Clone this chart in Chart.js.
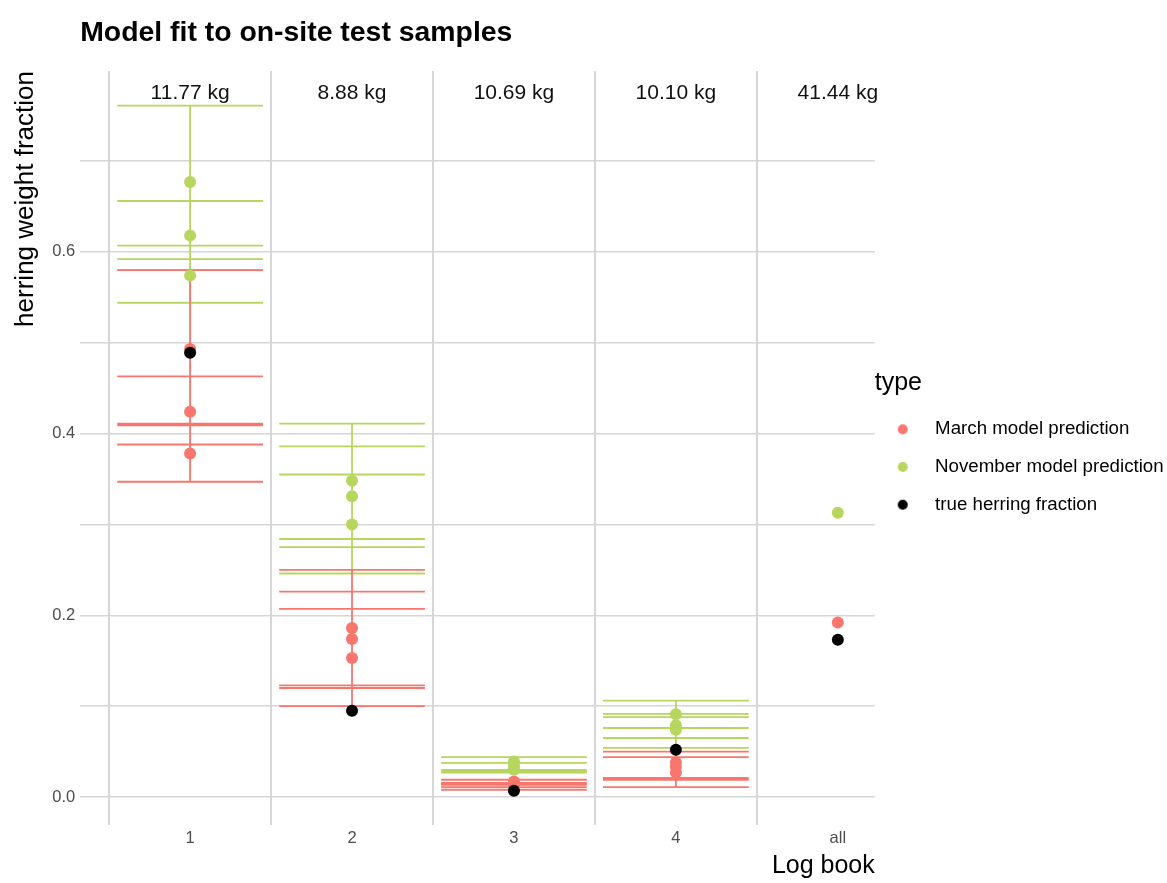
<!DOCTYPE html>
<html>
<head>
<meta charset="utf-8">
<script src="https://cdn.jsdelivr.net/npm/chart.js@4.4.1/dist/chart.umd.min.js"></script>
<style>
  html, body { margin:0; padding:0; background:#fff; }
  #wrap { width:1167px; height:883px; }
</style>
</head>
<body>
<div id="wrap"><canvas id="chart" width="1167" height="883"></canvas></div>
<script>
// log books on the x axis, and the catch weight printed above each one
const LOGBOOKS = ['1', '2', '3', '4', 'all'];
const WEIGHTS  = ['11.77 kg', '8.88 kg', '10.69 kg', '10.10 kg', '41.44 kg'];

// predicted herring fractions, one list per log book
const MARCH_PRED = [[0.493, 0.424, 0.378], [0.186, 0.174, 0.153], [0.017, 0.015, 0.014], [0.038, 0.033, 0.027], [0.192]];
const NOV_PRED   = [[0.677, 0.618, 0.574], [0.348, 0.331, 0.300], [0.039, 0.034, 0.030], [0.091, 0.079, 0.074], [0.313]];
const TRUE_FRAC  = [0.489, 0.095, 0.007, 0.052, 0.173];

// error intervals [low, high], one list per log book
const MARCH_CI = [
  [[0.347, 0.580], [0.388, 0.463], [0.409, 0.411]],
  [[0.100, 0.250], [0.120, 0.226], [0.123, 0.207]],
  [[0.008, 0.019], [0.011, 0.0155], [0.0135, 0.0145]],
  [[0.011, 0.050], [0.019, 0.044], [0.020, 0.021]],
  []
];
const NOV_CI = [
  [[0.544, 0.761], [0.592, 0.656], [0.580, 0.607]],
  [[0.246, 0.411], [0.275, 0.386], [0.284, 0.355]],
  [[0.027, 0.044], [0.029, 0.0375], [0.028, 0.030]],
  [[0.054, 0.106], [0.065, 0.0915], [0.076, 0.088]],
  []
];

const Y_TICKS = [0, 0.1, 0.2, 0.3, 0.4, 0.5, 0.6, 0.7];

const RED   = '#F8766D';
const GREEN = '#B7D65E';
const GRID  = '#d6d6d6';
const TICK  = '#4d4d4d';
const FONT  = "'Liberation Sans', Arial, sans-serif";
const CAP   = 0.45;      // half width of the interval caps, in log book units
const KG_Y  = 0.775;     // height of the weight labels

const pts = rows => rows.flatMap((vals, i) => [].concat(vals).map(v => ({ x: i + 1, y: v })));
const bars = rows => rows.flatMap((list, i) => list.flatMap(([lo, hi]) => {
  const x = i + 1;
  return [
    { x: x - CAP, y: lo }, { x: x + CAP, y: lo }, { x: x, y: null },
    { x: x - CAP, y: hi }, { x: x + CAP, y: hi }, { x: x, y: null },
    { x: x, y: lo }, { x: x, y: hi }, { x: x, y: null },
  ];
}));

// legend dot, drawn left of centre so the label text sits further right
function dot(color) {
  const c = document.createElement('canvas');
  c.width = 28; c.height = 12;
  const g = c.getContext('2d');
  g.fillStyle = color;
  g.beginPath(); g.arc(7, 6, 5, 0, Math.PI * 2); g.fill();
  return c;
}

const weightLabels = {
  id: 'weightLabels',
  afterDatasetsDraw(chart) {
    const { ctx, scales: { x, y } } = chart;
    ctx.save();
    ctx.font = `21px ${FONT}`;
    ctx.fillStyle = '#111';
    ctx.textAlign = 'center';
    ctx.textBaseline = 'middle';
    WEIGHTS.forEach((w, i) => ctx.fillText(w, x.getPixelForValue(i + 1), y.getPixelForValue(KG_Y)));
    ctx.restore();
  }
};

const ptSet = (label, data, color, order) => ({
  label, data: pts(data), backgroundColor: color, borderColor: color, borderWidth: 0,
  pointRadius: 6, pointHoverRadius: 6, pointStyle: 'circle', order,
});
const barSet = (label, data, color, order) => ({
  label, data: bars(data), showLine: true, spanGaps: false, borderColor: color, backgroundColor: color,
  borderWidth: 1.8, pointRadius: 0, pointHoverRadius: 0, order,
});

Chart.defaults.font.family = FONT;

new Chart(document.getElementById('chart'), {
  type: 'scatter',
  data: {
    datasets: [
      ptSet('March model prediction', MARCH_PRED, RED, 2),
      ptSet('November model prediction', NOV_PRED, GREEN, 1),
      ptSet('true herring fraction', TRUE_FRAC, '#000', 0),
      barSet('March interval', MARCH_CI, RED, 3),
      barSet('November interval', NOV_CI, GREEN, 4),
    ],
  },
  options: {
    responsive: false, devicePixelRatio: 1, animation: false,
    events: [],
    layout: { padding: { left: 10, right: 4, top: 16, bottom: 2 } },
    plugins: {
      tooltip: { enabled: false },
      title: {
        display: true, text: 'Model fit to on-site test samples', align: 'start', fullSize: false,
        color: '#000', font: { size: 28.4, weight: 'bold' }, padding: { top: 0, bottom: 21 },
      },
      legend: {
        position: 'right', align: 'center',
        title: { display: true, text: 'type', position: 'start', color: '#000', font: { size: 25 }, padding: { top: 7, bottom: 0 } },
        labels: {
          color: '#000', font: { size: 18.7 }, usePointStyle: true, pointStyleWidth: 32,
          boxWidth: 10, boxHeight: 10, padding: 19,
          generateLabels: chart => Chart.defaults.plugins.legend.labels.generateLabels(chart)
            .map(it => ({ ...it, pointStyle: dot(it.fillStyle) })),
          filter: item => item.datasetIndex < 3,
          sort: (a, b) => a.datasetIndex - b.datasetIndex,
        },
      },
    },
    scales: {
      x: {
        type: 'linear', min: 0.321, max: 5.228,
        afterBuildTicks: ax => { ax.ticks = [0.5, 1, 1.5, 2, 2.5, 3, 3.5, 4, 4.5, 5].map(v => ({ value: v })); },
        ticks: {
          autoSkip: false, maxRotation: 0, color: TICK, font: { size: 16.5 }, padding: 3,
          callback: v => Number.isInteger(v) ? LOGBOOKS[v - 1] : '',
        },
        grid: { drawTicks: false, lineWidth: 2, color: c => (c.tick && !Number.isInteger(c.tick.value)) ? GRID : 'transparent' },
        border: { display: false },
        title: { display: true, text: 'Log book', align: 'end', color: '#000', font: { size: 25 }, padding: { top: 0, bottom: 0 } },
      },
      y: {
        min: -0.031, max: 0.799,
        afterBuildTicks: ax => { ax.ticks = Y_TICKS.map(v => ({ value: v })); },
        ticks: {
          color: TICK, font: { size: 16.5 }, padding: 5,
          callback: v => (Math.round(v * 10) % 2 === 0) ? v.toFixed(1) : '',
        },
        grid: { drawTicks: false, lineWidth: 1.5, color: GRID },
        border: { display: false },
        title: { display: true, text: 'herring weight fraction', align: 'end', color: '#000', font: { size: 26 }, padding: { top: 0, bottom: 6 } },
      },
    },
  },
  plugins: [weightLabels],
});
</script>
</body>
</html>
